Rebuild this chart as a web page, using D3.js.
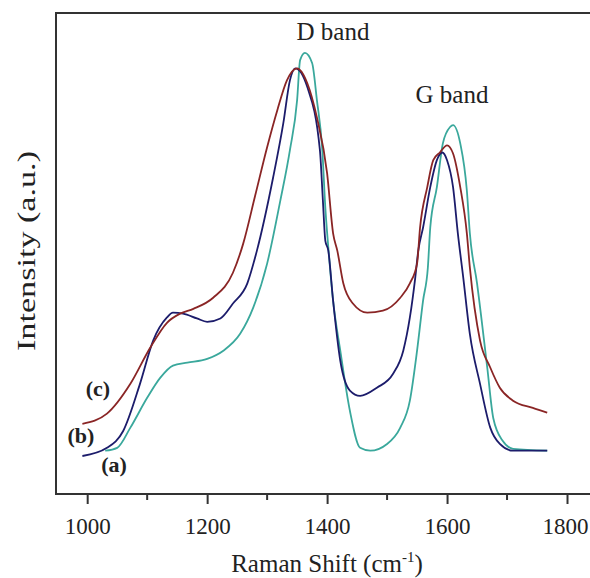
<!DOCTYPE html>
<html>
<head>
<meta charset="utf-8">
<script src="https://cdnjs.cloudflare.com/ajax/libs/d3/7.8.5/d3.min.js"></script>
</head>
<body style="margin:0">
<script>
// raman shift (cm-1) and intensity (a.u., 0-100)
var shiftA = [1030,1050,1072,1100,1122,1143,1167,1200,1227,1255,1277,1300,1322,1338,1350,1355,1363,1375,1383,1392,1397,1402,1410,1422,1438,1455,1472,1500,1522,1538,1550,1560,1568,1572,1583,1593,1605,1610,1622,1633,1638,1650,1667,1677,1693,1710,1767]
var intA = [9.0,9.6,13.8,20.0,24.2,26.7,27.3,28.1,29.8,33.3,38.8,47.9,61.0,71.5,81.9,90.2,91.7,89.6,81.9,71.5,59.6,51.3,40.2,29.8,17.3,9.6,9.0,10.4,13.8,19.4,29.8,40.2,47.1,55.4,63.8,72.9,76.3,76.7,72.9,63.1,54.2,43.8,26.3,15.8,11.0,9.4,9.0]

var shiftB = [992,1033,1060,1088,1110,1133,1143,1160,1183,1200,1222,1243,1267,1283,1310,1327,1338,1347,1367,1388,1393,1397,1402,1410,1422,1438,1455,1483,1510,1527,1538,1547,1552,1560,1572,1583,1592,1600,1610,1618,1627,1638,1655,1672,1688,1710,1767]
var intB = [7.9,9.6,13.1,22.9,31.9,36.7,37.7,37.5,36.5,35.8,36.5,39.6,43.8,50.6,65.8,77.1,86.0,88.5,84.6,71.5,61.0,52.7,50.6,40.2,27.7,21.5,20.4,22.1,25.0,29.8,36.7,45.0,50.6,55.4,63.8,69.4,71.0,69.4,63.8,54.2,45.0,33.3,22.9,13.8,10.4,9.0,9.0]

var shiftC = [992,1033,1072,1105,1133,1155,1177,1210,1243,1260,1280,1300,1317,1333,1350,1367,1383,1400,1410,1417,1427,1443,1467,1493,1522,1538,1550,1555,1567,1577,1588,1600,1610,1622,1633,1638,1655,1672,1688,1710,1743,1767]
var intC = [14.6,16.7,22.9,30.4,35.6,37.5,38.5,40.8,46.0,52.0,62.0,72.1,79.8,86.0,88.5,85.4,78.3,66.7,54.2,50.6,43.8,39.6,37.7,38.1,40.8,43.8,47.9,55.4,63.8,69.4,71.0,72.5,70.8,63.8,54.2,47.1,31.9,26.3,22.1,19.4,17.9,16.9]

var xTicks = [1000,1200,1400,1600,1800]
var xMinor = [1100,1300,1500,1700]

var series = [
  {name: "(a)", xs: shiftA, ys: intA, color: "#3aa89c"},
  {name: "(b)", xs: shiftB, ys: intB, color: "#1c1c6b"},
  {name: "(c)", xs: shiftC, ys: intC, color: "#8a2525"}
]

var FONT = "Times New Roman"
var W = 590, H = 578
var svg = d3.select("body").append("svg").attr("width", W).attr("height", H)
  .attr("font-family", FONT)

var x = d3.scaleLinear().domain([948, 1855]).range([56, 600])
var y = d3.scaleLinear().domain([0, 100]).range([494, 13])

// frame
svg.append("rect")
  .attr("x", 56).attr("y", 13)
  .attr("width", 600 - 56).attr("height", 494 - 13)
  .attr("fill", "none").attr("stroke", "#333").attr("stroke-width", 2)

// bottom axis
var ax = svg.append("g").attr("transform", "translate(0,494)")
  .call(d3.axisBottom(x).tickValues(xTicks).tickFormat(d3.format("d"))
    .tickSize(10).tickSizeOuter(0).tickPadding(14))
ax.attr("font-family", FONT).attr("font-size", 23)
ax.select(".domain").remove()
ax.selectAll("line").attr("stroke", "#333").attr("stroke-width", 2)
ax.selectAll("text").attr("fill", "#222")
// last label sits against the window edge
ax.selectAll("text").filter(d => d === 1800).attr("dx", -2)

svg.append("g").attr("transform", "translate(0,494)")
  .selectAll("line").data(xMinor).join("line")
  .attr("x1", d => x(d)).attr("x2", d => x(d))
  .attr("y1", 0).attr("y2", 6)
  .attr("stroke", "#333").attr("stroke-width", 2)

// curves
var line = d3.line()
  .x(d => x(d[0])).y(d => y(d[1]))
  .curve(d3.curveMonotoneX)

series.forEach(function(s) {
  svg.append("path")
    .datum(d3.zip(s.xs, s.ys))
    .attr("d", line)
    .attr("fill", "none")
    .attr("stroke", s.color)
    .attr("stroke-width", 1.8)
})

// annotations
function label(px, py, size, txt, bold) {
  return svg.append("text").attr("x", px).attr("y", py).attr("text-anchor", "middle")
    .attr("font-size", size).attr("fill", "#222")
    .attr("font-family", FONT)
    .attr("font-weight", bold ? "bold" : "normal")
    .text(txt)
}
label(333, 40, 25, "D band")
label(452, 103, 25, "G band")
label(98, 396, 22, "(c)", true)
label(81, 443, 22, "(b)", true)
label(114, 472, 22, "(a)", true)

// axis titles
var xt = label(327, 572, 25, "")
xt.append("tspan").text("Raman Shift (cm")
xt.append("tspan").attr("font-size", 15).attr("dy", -10).text("-1")
xt.append("tspan").attr("dy", 10).text(")")

label(0, 0, 26, "Intensity (a.u.)")
  .attr("textLength", 200).attr("lengthAdjust", "spacingAndGlyphs")
  .attr("transform", "translate(35,251) rotate(-90)")
</script>
</body>
</html>
